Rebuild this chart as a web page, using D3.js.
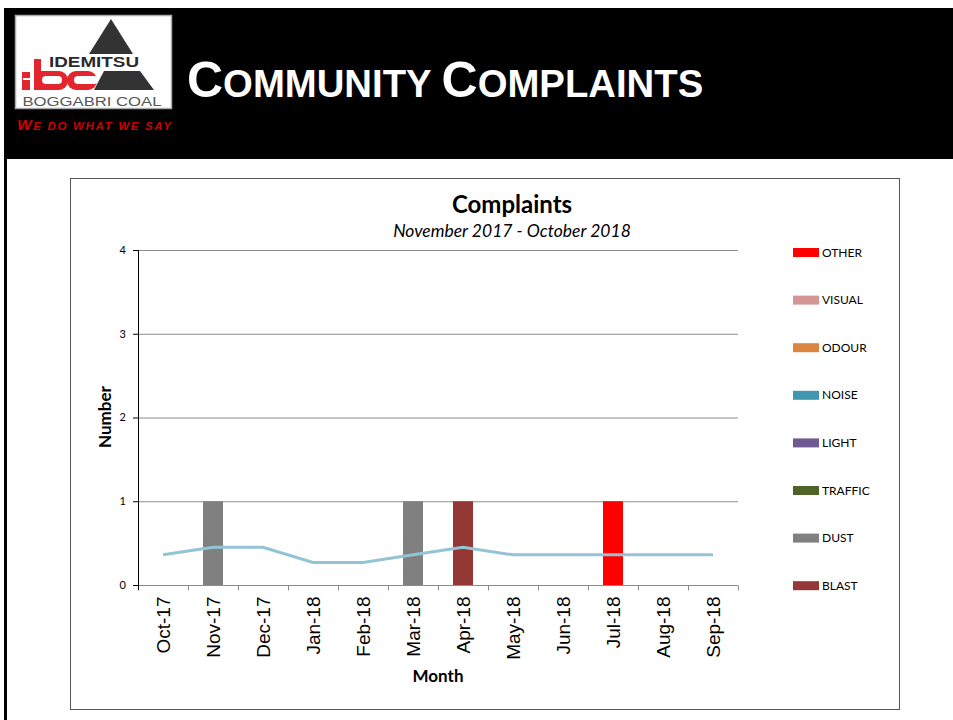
<!DOCTYPE html>
<html><head><meta charset="utf-8">
<script src="https://cdn.jsdelivr.net/npm/d3@7"></script>
<style>body{margin:0;background:#fff}svg{display:block}</style>
</head><body>
<script>
const months = ["Oct-17","Nov-17","Dec-17","Jan-18","Feb-18","Mar-18","Apr-18","May-18","Jun-18","Jul-18","Aug-18","Sep-18"];
const BLAST   = [0,0,0,0,0,0,1,0,0,0,0,0];
const DUST    = [0,1,0,0,0,1,0,0,0,0,0,0];
const TRAFFIC = [0,0,0,0,0,0,0,0,0,0,0,0];
const LIGHT   = [0,0,0,0,0,0,0,0,0,0,0,0];
const NOISE   = [0,0,0,0,0,0,0,0,0,0,0,0];
const ODOUR   = [0,0,0,0,0,0,0,0,0,0,0,0];
const VISUAL  = [0,0,0,0,0,0,0,0,0,0,0,0];
const OTHER   = [0,0,0,0,0,0,0,0,0,1,0,0];
const average = [0.36,0.45,0.45,0.27,0.27,0.36,0.45,0.36,0.36,0.36,0.36,0.36];
const yTicks = [0,1,2,3,4];
const seriesNames = ["BLAST","DUST","TRAFFIC","LIGHT","NOISE","ODOUR","VISUAL","OTHER"];
const seriesColors = ["#953735","#808080","#4f6228","#705a92","#4197af","#dd853f","#d69595","#ff0000"];

const seriesData = {BLAST,DUST,TRAFFIC,LIGHT,NOISE,ODOUR,VISUAL,OTHER};
const W=953,H=720;
const svg=d3.select("body").append("svg").attr("width",W).attr("height",H);

// Slide header
svg.append("rect").attr("x",4).attr("y",8).attr("width",W-4).attr("height",151).attr("fill","#000");
svg.append("rect").attr("x",4).attr("y",158).attr("width",3).attr("height",H-158).attr("fill","#000");

// Logo
const logo=svg.append("g");
logo.append("rect").attr("x",15.5).attr("y",15.5).attr("width",156).attr("height",93).attr("fill","#fff").attr("stroke","#aaa").attr("stroke-width",1.5);
logo.append("polygon").attr("points","111,19 133,54 89,54").attr("fill","#333");
logo.append("polygon").attr("points","104,71 140,71 154,90 94,90").attr("fill","#333");
logo.append("text").attr("x",94).attr("y",67).attr("text-anchor","middle").attr("font-family","Liberation Sans, Arial").attr("font-weight","bold").attr("font-size",14.5).attr("fill","#2a2a2a").attr("textLength",90).attr("lengthAdjust","spacingAndGlyphs").text("IDEMITSU");
const red="#e3262e";
logo.append("rect").attr("x",22).attr("y",72).attr("width",8).attr("height",18).attr("fill",red);
logo.append("rect").attr("x",23).attr("y",78).attr("width",7).attr("height",2).attr("fill","#fff");
logo.append("rect").attr("x",34).attr("y",59).attr("width",7).attr("height",31).attr("fill",red);
logo.append("rect").attr("x",34).attr("y",71).attr("width",34).attr("height",19).attr("rx",9).attr("fill",red);
logo.append("rect").attr("x",34).attr("y",71).attr("width",12).attr("height",19).attr("fill",red);
logo.append("rect").attr("x",42).attr("y",76).attr("width",20).attr("height",8).attr("rx",4).attr("fill","#fff");
logo.append("rect").attr("x",67).attr("y",71).attr("width",30).attr("height",19).attr("rx",9).attr("fill",red);
logo.append("rect").attr("x",74).attr("y",76).attr("width",24).attr("height",8).attr("rx",4).attr("fill","#fff");
logo.append("text").attr("x",92).attr("y",106).attr("text-anchor","middle").attr("font-family","Liberation Sans, Arial").attr("font-size",12.5).attr("fill","#555").attr("textLength",139).attr("lengthAdjust","spacingAndGlyphs").text("BOGGABRI COAL");
// Tagline
const tag=svg.append("text").attr("x",17).attr("y",130).attr("font-family","Liberation Sans, Arial").attr("font-weight","bold").attr("font-style","italic").attr("fill","#d00000").attr("textLength",154).attr("lengthAdjust","spacing");
[["W",15.5],["E DO ",11.5],["W",11.5],["HAT ",11.5],["W",11.5],["E SAY",11.5]].forEach(([t,s])=>tag.append("tspan").attr("font-size",s).text(t));

// Title
const title=svg.append("text").attr("x",187).attr("y",97).attr("font-family","Liberation Sans, Arial").attr("font-weight","bold").attr("fill","#fff");
[["C",50],["OMMUNITY ",38.3],["C",50],["OMPLAINTS",38.3]].forEach(([t,s])=>title.append("tspan").attr("font-size",s).text(t));

// Chart frame
svg.append("rect").attr("x",70.5).attr("y",178.5).attr("width",829).attr("height",531).attr("fill","#fff").attr("stroke","#555").attr("stroke-width",1);

const cf="Lato, 'Open Sans', sans-serif";
svg.append("text").attr("x",512).attr("y",213).attr("text-anchor","middle").attr("font-family",cf).attr("font-weight","bold").attr("font-size",24).attr("fill","#000").text("Complaints");
svg.append("text").attr("x",512).attr("y",237).attr("text-anchor","middle").attr("font-family",cf).attr("font-style","italic").attr("font-size",17.5).attr("fill","#000").text("November 2017 - October 2018");

const x=d3.scaleBand().domain(months).range([138,738]);
const y=d3.scaleLinear().domain([0,4]).range([585,250]);

svg.append("g").selectAll("line").data(yTicks.filter(d=>d>0)).join("line")
 .attr("x1",138).attr("x2",738).attr("y1",d=>y(d)+0.5).attr("y2",d=>y(d)+0.5).attr("stroke","#8c8c8c").attr("stroke-width",1);

const table=months.map((m,i)=>{const o={month:m};seriesNames.forEach(s=>o[s]=seriesData[s][i]);return o;});
const stack=d3.stack().keys(seriesNames)(table);
const bw=20;
svg.append("g").selectAll("g").data(stack).join("g").attr("fill",(d,i)=>seriesColors[i])
 .selectAll("rect").data(d=>d.filter(v=>v[1]-v[0]>0)).join("rect")
 .attr("x",d=>x(d.data.month)+x.bandwidth()/2-bw/2).attr("width",bw)
 .attr("y",d=>y(d[1])).attr("height",d=>y(d[0])-y(d[1]));

svg.append("path").datum(average).attr("fill","none").attr("stroke","#93c4d6").attr("stroke-width",3)
 .attr("d",d3.line().x((d,i)=>x(months[i])+x.bandwidth()/2).y(d=>y(d)));

const xa=svg.append("g").attr("transform","translate(0,585.5)");
xa.append("line").attr("x1",138).attr("x2",738).attr("stroke","#8c8c8c");
const edges=months.map(m=>x(m)).concat([738]);
xa.selectAll("line.t").data(edges).join("line").attr("class","t").attr("x1",d=>d+0.5).attr("x2",d=>d+0.5).attr("y1",0).attr("y2",5).attr("stroke","#8c8c8c");
xa.selectAll("text").data(months).join("text")
 .attr("transform",d=>`translate(${x(d)+x.bandwidth()/2},${11}) rotate(-90)`)
 .attr("dy","0.35em").attr("text-anchor","end").attr("font-family","Liberation Sans, Arial").attr("font-size",19).attr("fill","#000").text(d=>d);

const ya=svg.append("g");
ya.append("line").attr("x1",138.5).attr("x2",138.5).attr("y1",250).attr("y2",590).attr("stroke","#000");
ya.selectAll("line.t").data(yTicks).join("line").attr("class","t").attr("x1",133).attr("x2",138).attr("y1",d=>y(d)+0.5).attr("y2",d=>y(d)+0.5).attr("stroke","#000");
ya.selectAll("text").data(yTicks).join("text").attr("x",126).attr("y",d=>y(d)).attr("dy","0.35em").attr("text-anchor","end")
 .attr("font-family",cf).attr("font-size",11).attr("fill","#000").text(d=>d);

svg.append("text").attr("transform","translate(111,417) rotate(-90)").attr("text-anchor","middle").attr("font-family",cf).attr("font-weight","bold").attr("font-size",17).text("Number");
svg.append("text").attr("x",438).attr("y",682).attr("text-anchor","middle").attr("font-family",cf).attr("font-weight","bold").attr("font-size",17).text("Month");

const legOrder=seriesNames.slice().reverse();
const lg=svg.append("g").selectAll("g").data(legOrder).join("g").attr("transform",(d,i)=>`translate(793,${252+i*47.6})`);
lg.append("rect").attr("x",0).attr("y",-4).attr("width",26).attr("height",9).attr("fill",d=>seriesColors[seriesNames.indexOf(d)]);
lg.append("text").attr("x",29).attr("y",0).attr("dy","0.38em").attr("font-family",cf).attr("font-size",12).attr("fill","#000").text(d=>d);
</script>
</body></html>
